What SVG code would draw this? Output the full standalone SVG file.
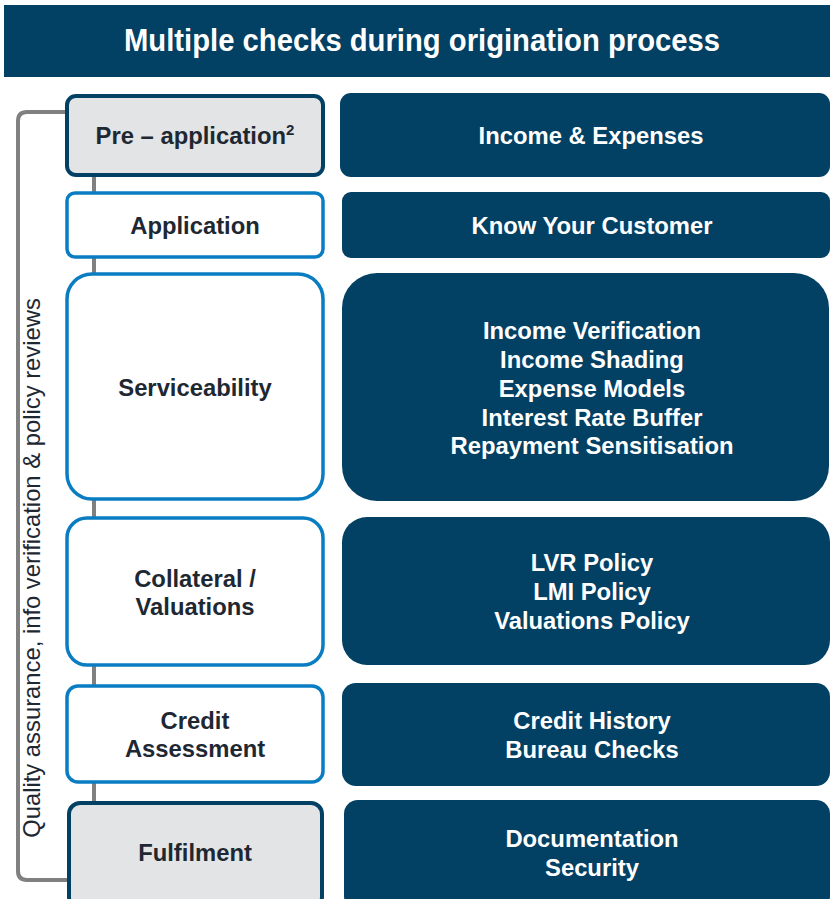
<svg xmlns="http://www.w3.org/2000/svg" width="830" height="899" viewBox="0 0 830 899">
<style>
.hdr{fill:#024064}
.stage{fill:#fff;stroke:#0a7dc2;stroke-width:3.5}
.stage-end{fill:#e3e4e5;stroke:#024064;stroke-width:4}
.check{fill:#024064}
.lt{font-family:"Liberation Sans",Arial,sans-serif;font-weight:bold;font-size:23.8px;fill:#1e2833;text-anchor:middle}
.rt{font-family:"Liberation Sans",Arial,sans-serif;font-weight:bold;font-size:23.8px;fill:#fff;text-anchor:middle}
.conn{fill:none;stroke:#808080;stroke-width:4}
</style>
<rect width="830" height="899" fill="#fff"/>
<g id="header">
<rect class="hdr" x="4" y="5" width="826" height="72"/>
<text x="422" y="51" font-family="'Liberation Sans Narrow','Liberation Sans',Arial,sans-serif" font-weight="bold" font-size="31" fill="#fff" text-anchor="middle" textLength="596" lengthAdjust="spacingAndGlyphs">Multiple checks during origination process</text>
</g>
<g id="connectors">
<path class="conn" d="M66 112 H27 Q18 112 18 121 V871 Q18 880 27 880 H68"/>
<line class="conn" x1="94" y1="176" x2="94" y2="801"/>
</g>
<g id="qa-label">
<text transform="translate(40,568) rotate(-90)" font-family="'Liberation Sans',Arial,sans-serif" font-size="23.8" fill="#1e2833" text-anchor="middle">Quality assurance, info verification &amp; policy reviews</text>
</g>
<g id="pre-application">
<rect class="stage-end" x="67" y="96" width="256" height="79" rx="9"/>
<text class="lt" x="195" y="144">Pre – application<tspan font-size="15" dy="-9">2</tspan></text>
</g>
<g id="application">
<rect class="stage" x="67" y="193" width="256" height="64" rx="8"/>
<text class="lt" x="195" y="234">Application</text>
</g>
<g id="serviceability">
<rect class="stage" x="67" y="274" width="256" height="225" rx="25"/>
<text class="lt" x="195" y="396">Serviceability</text>
</g>
<g id="collateral">
<rect class="stage" x="67" y="518" width="256" height="147" rx="20"/>
<text class="lt" x="195" y="587">Collateral /</text>
<text class="lt" x="195" y="615">Valuations</text>
</g>
<g id="credit-assessment">
<rect class="stage" x="67" y="686" width="256" height="96" rx="11"/>
<text class="lt" x="195" y="729">Credit</text>
<text class="lt" x="195" y="757">Assessment</text>
</g>
<g id="fulfilment">
<rect class="stage-end" x="69" y="803" width="253" height="105" rx="11"/>
<text class="lt" x="195" y="861">Fulfilment</text>
</g>
<g id="income-expenses">
<rect class="check" x="340" y="93" width="490" height="84" rx="11"/>
<text class="rt" x="591" y="144">Income &amp; Expenses</text>
</g>
<g id="kyc">
<rect class="check" x="342" y="192" width="488" height="66" rx="9"/>
<text class="rt" x="592" y="234">Know Your Customer</text>
</g>
<g id="serviceability-checks">
<rect class="check" x="342" y="273" width="487" height="228" rx="35"/>
<text class="rt" x="592" y="339">Income Verification</text>
<text class="rt" x="592" y="368">Income Shading</text>
<text class="rt" x="592" y="397">Expense Models</text>
<text class="rt" x="592" y="426">Interest Rate Buffer</text>
<text class="rt" x="592" y="454">Repayment Sensitisation</text>
</g>
<g id="collateral-checks">
<rect class="check" x="342" y="517" width="488" height="148" rx="25"/>
<text class="rt" x="592" y="571">LVR Policy</text>
<text class="rt" x="592" y="600">LMI Policy</text>
<text class="rt" x="592" y="629">Valuations Policy</text>
</g>
<g id="credit-checks">
<rect class="check" x="342" y="683" width="488" height="103" rx="14"/>
<text class="rt" x="592" y="729">Credit History</text>
<text class="rt" x="592" y="758">Bureau Checks</text>
</g>
<g id="fulfilment-checks">
<rect class="check" x="344" y="800" width="486" height="110" rx="14"/>
<text class="rt" x="592" y="847">Documentation</text>
<text class="rt" x="592" y="876">Security</text>
</g>
</svg>
